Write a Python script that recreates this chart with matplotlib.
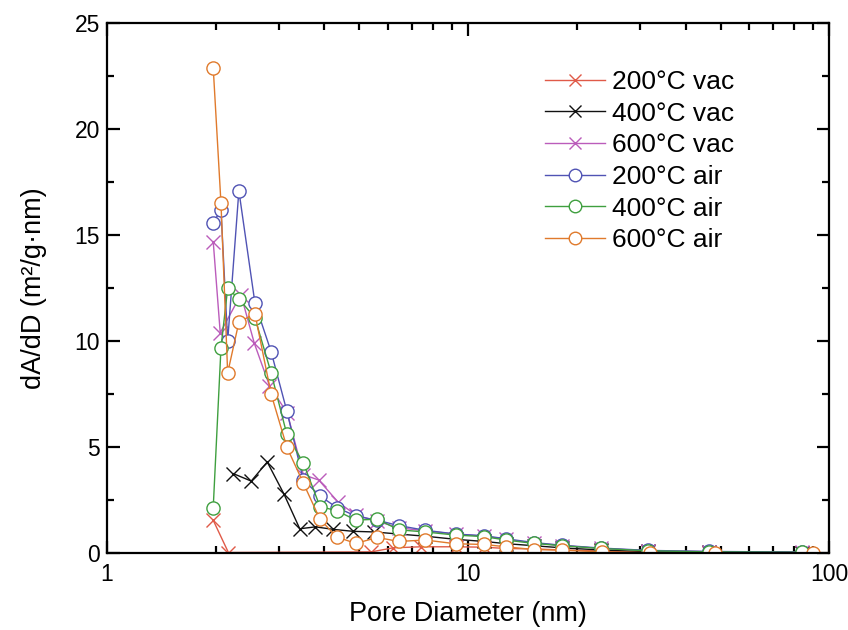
import matplotlib
matplotlib.use("Agg")
import matplotlib.pyplot as plt
from matplotlib.ticker import LogLocator, MultipleLocator, FixedFormatter, FixedLocator

plt.rcParams['font.family'] = ['Liberation Sans', 'DejaVu Sans']

# 200°C vac
x_200vac = [1.97, 2.17, 5.40, 6.20, 7.40, 9.26, 11.1, 12.7, 15.2, 18.2, 23.3, 31.4, 46.4, 84.1]
y_200vac = [1.55, 0.03, 0.06, 0.25, 0.3, 0.3, 0.28, 0.22, 0.2, 0.15, 0.1, 0.06, 0.03, 0.02]

# 400°C vac
x_400vac = [2.24, 2.51, 2.78, 3.09, 3.42, 3.78, 4.24, 4.80, 5.50, 6.43, 7.60, 9.26, 11.1, 12.7, 15.2, 18.2, 23.3, 31.4, 46.4, 84.1]
y_400vac = [3.75, 3.4, 4.3, 2.8, 1.15, 1.24, 1.12, 1.03, 1.0, 0.9, 0.8, 0.65, 0.55, 0.45, 0.35, 0.25, 0.15, 0.08, 0.04, 0.02]

# 600°C vac
x_600vac = [1.97, 2.06, 2.35, 2.56, 2.82, 3.16, 3.50, 3.86, 4.37, 4.89, 5.61, 6.43, 7.60, 9.26, 11.1, 12.7, 15.2, 18.2, 23.3, 31.4, 46.4, 84.1]
y_600vac = [14.7, 10.4, 12.2, 9.9, 7.9, 6.6, 3.7, 3.45, 2.4, 1.8, 1.5, 1.2, 1.05, 0.9, 0.8, 0.65, 0.48, 0.36, 0.22, 0.12, 0.07, 0.05]

# air samples
x_air = [1.97, 2.07, 2.16, 2.32, 2.57, 2.85, 3.15, 3.50, 3.89, 4.33, 4.89, 5.61, 6.43, 7.60, 9.26, 11.1, 12.7, 15.2, 18.2, 23.3, 31.4, 46.4, 84.1]
y_200air = [15.6, 16.2, 10.0, 17.1, 11.8, 9.5, 6.7, 3.45, 2.7, 2.15, 1.75, 1.55, 1.3, 1.08, 0.9, 0.82, 0.68, 0.5, 0.37, 0.24, 0.13, 0.08, 0.05]
y_400air = [2.15, 9.7, 12.5, 12.0, 11.1, 8.5, 5.6, 4.25, 2.2, 2.0, 1.56, 1.6, 1.1, 1.0, 0.85, 0.78, 0.62, 0.46, 0.35, 0.22, 0.11, 0.06, 0.04]

x_600air = [1.97, 2.07, 2.16, 2.32, 2.57, 2.85, 3.15, 3.50, 3.89, 4.33, 4.89, 5.61, 6.43, 7.60, 9.26, 11.1, 12.7, 15.2, 18.2, 23.5, 31.8, 48.3, 90.3]
y_600air = [22.9, 16.5, 8.5, 10.9, 11.3, 7.5, 5.0, 3.3, 1.6, 0.76, 0.46, 0.74, 0.55, 0.62, 0.44, 0.41, 0.3, 0.17, 0.14, 0.06, 0.02, 0.0, 0.0]

series = [
    ("200°C vac", x_200vac, y_200vac, "x", "#e05a48"),
    ("400°C vac", x_400vac, y_400vac, "x", "#111111"),
    ("600°C vac", x_600vac, y_600vac, "x", "#bb5cbb"),
    ("200°C air", x_air, y_200air, "o", "#5053b4"),
    ("400°C air", x_air, y_400air, "o", "#3f9f3f"),
    ("600°C air", x_600air, y_600air, "o", "#e07a2c"),
]

fig = plt.figure(figsize=(8.48, 6.30), dpi=100)
ax = fig.add_axes([0.126, 0.122, 0.852, 0.841])

for label, xs, ys, mk, col in series:
    if mk == "o":
        ax.plot(xs, ys, marker="o", color=col, lw=1.0, ms=9.5, mfc="white",
                mec=col, mew=1.0, label=label)
    else:
        ax.plot(xs, ys, marker="x", color=col, lw=1.0, ms=9.5, mew=1.0, label=label)

ax.set_xscale("log")
ax.set_xlim(1, 100)
ax.set_ylim(0, 25)
ax.xaxis.set_major_locator(FixedLocator([1, 10, 100]))
ax.xaxis.set_major_formatter(FixedFormatter(["1", "10", "100"]))
ax.xaxis.set_minor_locator(LogLocator(base=10, subs=range(2, 10)))
ax.xaxis.set_minor_formatter(plt.NullFormatter())
ax.yaxis.set_major_locator(MultipleLocator(5))
ax.yaxis.set_minor_locator(MultipleLocator(2.5))

for s in ax.spines.values():
    s.set_linewidth(1.6)
ax.tick_params(which="both", direction="in", top=True, right=True, width=1.6, labelsize=16.5)
ax.tick_params(which="major", length=9)
ax.tick_params(which="minor", length=5)
ax.tick_params(axis="y", which="major", pad=5)
ax.tick_params(axis="x", which="major", pad=7)

ax.set_xlabel("Pore Diameter (nm)", fontsize=19.5, labelpad=11)
ax.set_ylabel("dA/dD (m²/g·nm)", fontsize=19.5, labelpad=20)

ax.legend(loc="upper left", bbox_to_anchor=(0.607, 0.912), frameon=False, fontsize=19,
          handlelength=2.27, handletextpad=0.27, labelspacing=0.29,
          borderpad=0, borderaxespad=0, markerscale=0.95)

fig.savefig("out.png", dpi=100)
